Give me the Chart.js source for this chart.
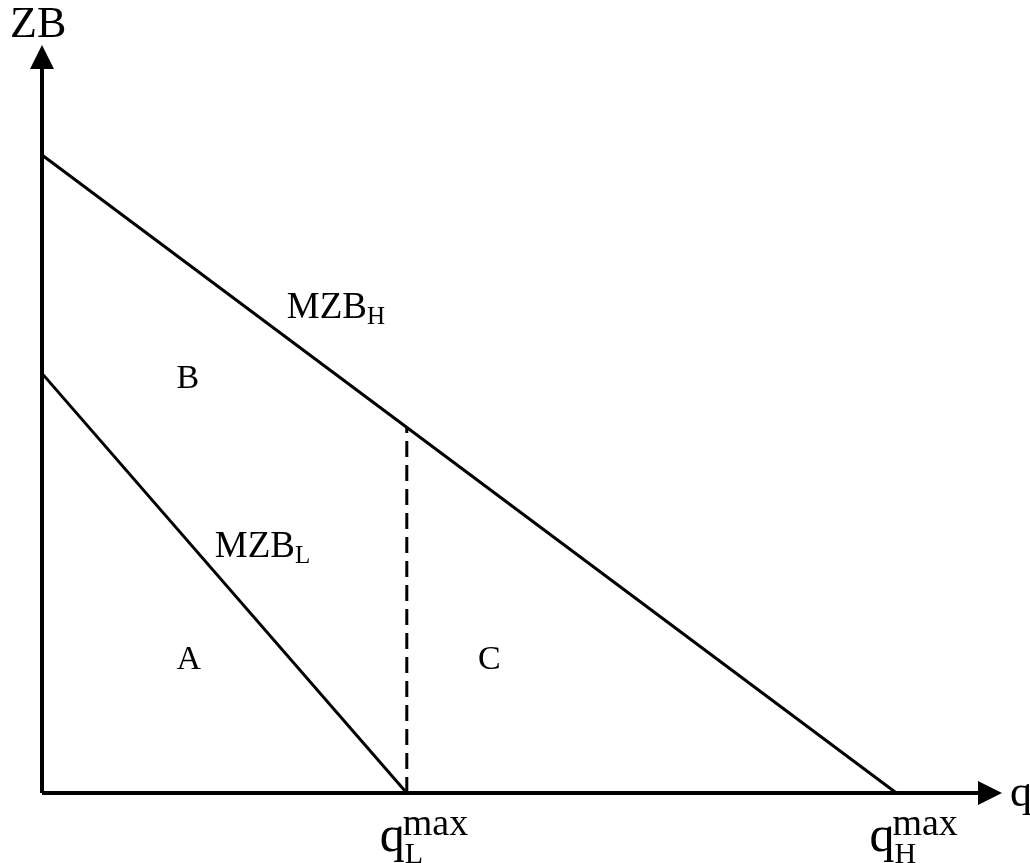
<!DOCTYPE html>
<html lang="en">
<head>
    <meta charset="UTF-8">
    <title>MZB</title>
    <script src="https://cdn.jsdelivr.net/npm/chart.js@4.4.0/dist/chart.umd.min.js"></script>
    <style>
        body { margin: 0; background: #fff; }
        #wrap { width: 1030px; height: 863px; }
    </style>
</head>
<body>
    <div id="wrap"><canvas id="mzb-canvas"></canvas></div>

    <script type="text/javascript">
        // values (x: quantity q, y: ZB), both 0..100
        var mzbHx = [0, 89];
        var mzbHy = [85.3, 0];
        var mzbLx = [0, 38];
        var mzbLy = [56.1, 0];
        var qMaxL = 38;
        var qMaxH = 89;
        var dashTop = 48.9;   // where q_L^max meets MZB_H
        var axisMax = 100;
        var areaNames = ['A', 'B', 'C'];
        var areaX = [15.3, 15.2, 46.6];
        var areaY = [17.8, 55.3, 17.8];

        function pts(xs, ys) {
            return xs.map(function(x, i) { return {x: x, y: ys[i]}; });
        }

        var serif = '"Liberation Serif", "DejaVu Serif", serif';

        var labelsPlugin = {
            id: 'labels',
            afterDraw: function(chart) {
                var ctx = chart.ctx;
                var xs = chart.scales.x, ys = chart.scales.y;
                var px = function(v) { return xs.getPixelForValue(v); };
                var py = function(v) { return ys.getPixelForValue(v); };
                ctx.save();
                ctx.fillStyle = '#000';

                // arrow heads
                ctx.beginPath();
                ctx.moveTo(px(0), py(axisMax));
                ctx.lineTo(px(0) - 12, py(axisMax) + 24);
                ctx.lineTo(px(0) + 12, py(axisMax) + 24);
                ctx.closePath();
                ctx.fill();
                ctx.beginPath();
                ctx.moveTo(px(axisMax), py(0));
                ctx.lineTo(px(axisMax) - 24, py(0) - 12);
                ctx.lineTo(px(axisMax) - 24, py(0) + 12);
                ctx.closePath();
                ctx.fill();

                ctx.textBaseline = 'alphabetic';
                ctx.textAlign = 'left';
                ctx.font = '44px ' + serif;
                ctx.fillText('ZB', px(0) - 32, py(axisMax) - 8);
                ctx.fillText('q', px(axisMax) + 8, py(0) + 13);

                // region letters
                ctx.font = '34px ' + serif;
                ctx.textAlign = 'center';
                ctx.textBaseline = 'middle';
                areaNames.forEach(function(n, i) {
                    ctx.fillText(n, px(areaX[i]), py(areaY[i]));
                });

                // curve names with subscripts
                ctx.textAlign = 'left';
                ctx.textBaseline = 'alphabetic';
                function sub(main, s, x, y, big, small) {
                    ctx.font = big + 'px ' + serif;
                    ctx.fillText(main, x, y);
                    var w = ctx.measureText(main).width;
                    ctx.font = small + 'px ' + serif;
                    ctx.fillText(s, x + w, y + 6);
                }
                sub('MZB', 'H', px(25.5), py(63.5), 37, 25);
                sub('MZB', 'L', px(18.0), py(31.6), 37, 25);

                // q max labels under the axis
                function qmax(s, v) {
                    var x = px(v) - 27;
                    var y = py(0) + 58;
                    ctx.font = '50px ' + serif;
                    ctx.fillText('q', x, y);
                    var w = ctx.measureText('q').width;
                    ctx.font = '30px ' + serif;
                    ctx.fillText(s, x + w, y + 12);
                    ctx.font = '38px ' + serif;
                    ctx.fillText('max', x + w - 2, y - 16);
                }
                qmax('L', qMaxL);
                qmax('H', qMaxH);
                ctx.restore();
            }
        };

        var lineStyle = {
            borderColor: '#000',
            borderWidth: 3,
            pointRadius: 0,
            showLine: true,
            fill: false,
            clip: false
        };

        var chartData = {
            datasets: [
                Object.assign({label: 'MZB_H', data: pts(mzbHx, mzbHy)}, lineStyle),
                Object.assign({label: 'MZB_L', data: pts(mzbLx, mzbLy)}, lineStyle),
                Object.assign({label: 'qL max', data: pts([qMaxL, qMaxL], [0, dashTop]), borderDash: [16, 8]}, lineStyle),
                Object.assign({label: 'x axis', data: pts([0, axisMax - 2.5], [0, 0])}, lineStyle, {borderWidth: 4}),
                Object.assign({label: 'y axis', data: pts([0, 0], [0, axisMax - 3])}, lineStyle, {borderWidth: 4})
            ]
        };

        var ctx = document.getElementById('mzb-canvas').getContext('2d');
        new Chart(ctx, {
            type: 'scatter',
            data: chartData,
            options: {
                responsive: true,
                maintainAspectRatio: false,
                animation: false,
                layout: { padding: { left: 42, right: 28, top: 45, bottom: 70 } },
                plugins: { legend: { display: false }, tooltip: { enabled: false } },
                scales: {
                    x: { type: 'linear', min: 0, max: axisMax, display: false },
                    y: { type: 'linear', min: 0, max: axisMax, display: false }
                }
            },
            plugins: [labelsPlugin]
        });
    </script>
</body>
</html>
